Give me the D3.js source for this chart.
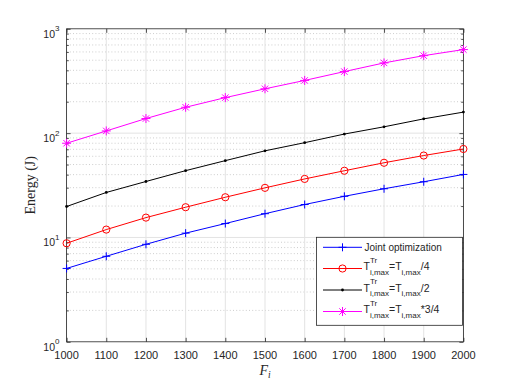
<!DOCTYPE html>
<html>
<head>
<meta charset="utf-8">
<script src="https://cdn.jsdelivr.net/npm/d3@7"></script>
<style>
body { margin: 0; background: #fff; }
text { font-family: "Liberation Sans", Arial, sans-serif; fill: #262626; }
</style>
</head>
<body>
<svg id="chart" width="512" height="384"></svg>
<script>
// F_i values on the x axis
var fi = [1000, 1100, 1200, 1300, 1400, 1500, 1600, 1700, 1800, 1900, 2000];

// energy (J) per curve
var jointOpt = [5.05, 6.6, 8.6, 11.0, 13.6, 16.9, 20.7, 24.8, 29.3, 34.2, 40.2];
var trQuarter = [8.8, 11.9, 15.5, 19.5, 24.3, 29.9, 36.4, 43.6, 52, 61, 70.5];
var trHalf = [19.8, 27, 34.4, 43.7, 54.5, 67.7, 81, 98, 115, 137, 159];
var trThreeQuarter = [80, 105, 138, 177, 219, 266, 320, 389, 471, 553, 632];

var yDecades = [1, 10, 100, 1000];
var yExponents = ["0", "1", "2", "3"];

var svg = d3.select("#chart");
var x0 = 66.6, x1 = 463.4, yTop = 28.8, yBot = 341.8;

var x = d3.scaleLinear().domain([1000, 2000]).range([x0, x1]);
var y = d3.scaleLog().domain([1, 1000]).range([yBot, yTop]);

var minorVals = [];
[1, 10, 100].forEach(function(d) {
    for (var k = 2; k <= 9; k++) minorVals.push(d * k);
});

var grid = svg.append("g").attr("class", "grid");

// minor horizontal grid, dotted
grid.selectAll("line.minor").data(minorVals).enter().append("line")
    .attr("class", "minor")
    .attr("x1", x0).attr("x2", x1)
    .attr("y1", function(d) { return y(d); })
    .attr("y2", function(d) { return y(d); })
    .attr("stroke", "#b8b8b8").attr("stroke-width", 0.7)
    .attr("stroke-dasharray", "1,2.2");

// major grid, solid and light
grid.selectAll("line.vmaj").data(fi).enter().append("line")
    .attr("class", "vmaj")
    .attr("x1", function(d) { return x(d); })
    .attr("x2", function(d) { return x(d); })
    .attr("y1", yTop).attr("y2", yBot)
    .attr("stroke", "#e3e3e3").attr("stroke-width", 1);

grid.selectAll("line.hmaj").data([10, 100]).enter().append("line")
    .attr("class", "hmaj")
    .attr("x1", x0).attr("x2", x1)
    .attr("y1", function(d) { return y(d); })
    .attr("y2", function(d) { return y(d); })
    .attr("stroke", "#e3e3e3").attr("stroke-width", 1);

// axes via d3-axis, ticks pointing inside
var axisColor = "#262626";
function styleAxis(g) {
    g.select(".domain").remove();
    g.selectAll(".tick line").attr("stroke", axisColor).attr("stroke-width", 0.8);
}

svg.append("g").attr("transform", "translate(0," + yBot + ")")
    .call(d3.axisBottom(x).tickValues(fi).tickSize(-4).tickFormat(""))
    .call(styleAxis);
svg.append("g").attr("transform", "translate(0," + yTop + ")")
    .call(d3.axisTop(x).tickValues(fi).tickSize(-4).tickFormat(""))
    .call(styleAxis);
svg.append("g").attr("transform", "translate(" + x0 + ",0)")
    .call(d3.axisLeft(y).tickValues(yDecades).tickSize(-4).tickFormat(""))
    .call(styleAxis);
svg.append("g").attr("transform", "translate(" + x1 + ",0)")
    .call(d3.axisRight(y).tickValues(yDecades).tickSize(-4).tickFormat(""))
    .call(styleAxis);
svg.append("g").attr("transform", "translate(" + x0 + ",0)")
    .call(d3.axisLeft(y).tickValues(minorVals).tickSize(-2.2).tickFormat(""))
    .call(styleAxis);
svg.append("g").attr("transform", "translate(" + x1 + ",0)")
    .call(d3.axisRight(y).tickValues(minorVals).tickSize(-2.2).tickFormat(""))
    .call(styleAxis);

// tick labels
svg.append("g").selectAll("text").data(fi).enter().append("text")
    .attr("x", function(d) { return x(d); })
    .attr("y", yBot + 17)
    .attr("text-anchor", "middle")
    .attr("font-size", 11)
    .text(function(d) { return d; });

var yl = svg.append("g").selectAll("text").data(yDecades).enter().append("text")
    .attr("x", 59.5)
    .attr("y", function(d) { return y(d) + 9; })
    .attr("text-anchor", "end")
    .attr("font-size", 10.5);
yl.append("tspan").text("10");
yl.append("tspan").attr("dy", -6.5).attr("font-size", 8)
    .text(function(d, i) { return yExponents[i]; });

// box
svg.append("rect")
    .attr("x", x0).attr("y", yTop)
    .attr("width", x1 - x0).attr("height", yBot - yTop)
    .attr("fill", "none").attr("stroke", axisColor).attr("stroke-width", 0.8);

// axis titles
svg.append("text")
    .attr("transform", "translate(35," + ((yTop + yBot) / 2) + ") rotate(-90)")
    .attr("text-anchor", "middle")
    .style("font-family", "'Liberation Serif','Times New Roman',serif")
    .attr("font-size", 14)
    .text("Energy (J)");

var xt = svg.append("text")
    .attr("x", (x0 + x1) / 2)
    .attr("y", 375)
    .attr("text-anchor", "middle")
    .style("font-family", "'Liberation Serif','Times New Roman',serif")
    .style("font-style", "italic")
    .attr("font-size", 14);
xt.append("tspan").text("F");
xt.append("tspan").attr("dy", 3).attr("font-size", 9.5).text("i");

// markers
function drawMarker(g, type, color) {
    if (type === "plus") {
        g.append("path").attr("d", "M-4,0H4M0,-4V4")
            .attr("stroke", color).attr("stroke-width", 1).attr("fill", "none");
    } else if (type === "circle") {
        g.append("circle").attr("r", 3.6)
            .attr("stroke", color).attr("stroke-width", 1).attr("fill", "none");
    } else if (type === "dot") {
        g.append("circle").attr("r", 1.4).attr("fill", color);
    } else if (type === "star") {
        g.append("path").attr("d", "M-4.5,0H4.5M0,-4.5V4.5M-3.2,-3.2L3.2,3.2M-3.2,3.2L3.2,-3.2")
            .attr("stroke", color).attr("stroke-width", 1).attr("fill", "none");
    }
}

var series = [
    { values: jointOpt, color: "#0000ff", marker: "plus" },
    { values: trQuarter, color: "#ff0000", marker: "circle" },
    { values: trHalf, color: "#000000", marker: "dot" },
    { values: trThreeQuarter, color: "#ff00ff", marker: "star" }
];

var line = d3.line()
    .x(function(d, i) { return x(fi[i]); })
    .y(function(d) { return y(d); });

var plot = svg.append("g").attr("class", "plot");
series.forEach(function(s) {
    plot.append("path")
        .attr("d", line(s.values))
        .attr("fill", "none")
        .attr("stroke", s.color)
        .attr("stroke-width", 1);
    s.values.forEach(function(v, i) {
        var g = plot.append("g").attr("transform", "translate(" + x(fi[i]) + "," + y(v) + ")");
        drawMarker(g, s.marker, s.color);
    });
});

// legend
var lg = svg.append("g").attr("class", "legend");
lg.append("rect")
    .attr("x", 316.5).attr("y", 237.3)
    .attr("width", 146).attr("height", 88)
    .attr("fill", "#fff").attr("stroke", axisColor).attr("stroke-width", 0.8);

var legendRows = [247.3, 268.5, 290, 311.5];
var legendTails = ["/4", "/2", "*3/4"];

// write pieces of a label one after another, stacking sup/sub where needed
function richLabel(g, x, y, parts) {
    var cx = x;
    parts.forEach(function(p) {
        if (p.t) {
            var t = g.append("text").attr("x", cx).attr("y", y).attr("font-size", 10.5).text(p.t);
            cx += t.node().getComputedTextLength();
        } else {
            var w = 0;
            if (p.sup) {
                var a = g.append("text").attr("x", cx).attr("y", y - 7.5).attr("font-size", 8).text(p.sup);
                w = Math.max(w, a.node().getComputedTextLength());
            }
            if (p.sub) {
                var b = g.append("text").attr("x", cx).attr("y", y + 4.5).attr("font-size", 8).text(p.sub);
                w = Math.max(w, b.node().getComputedTextLength());
            }
            cx += w;
        }
    });
}

series.forEach(function(s, i) {
    var ry = legendRows[i];
    lg.append("line")
        .attr("x1", 323).attr("x2", 362)
        .attr("y1", ry).attr("y2", ry)
        .attr("stroke", s.color).attr("stroke-width", 1);
    drawMarker(lg.append("g").attr("transform", "translate(342.5," + ry + ")"), s.marker, s.color);
    if (i === 0) {
        lg.append("text").attr("x", 364.5).attr("y", ry + 3.5).attr("font-size", 10).text("Joint optimization");
    } else {
        richLabel(lg, 363.5, ry + 1.5, [
            { t: "T" }, { sup: "Tr", sub: "i,max" },
            { t: "=T" }, { sub: "i,max" },
            { t: legendTails[i - 1] }
        ]);
    }
});
</script>
</body>
</html>
